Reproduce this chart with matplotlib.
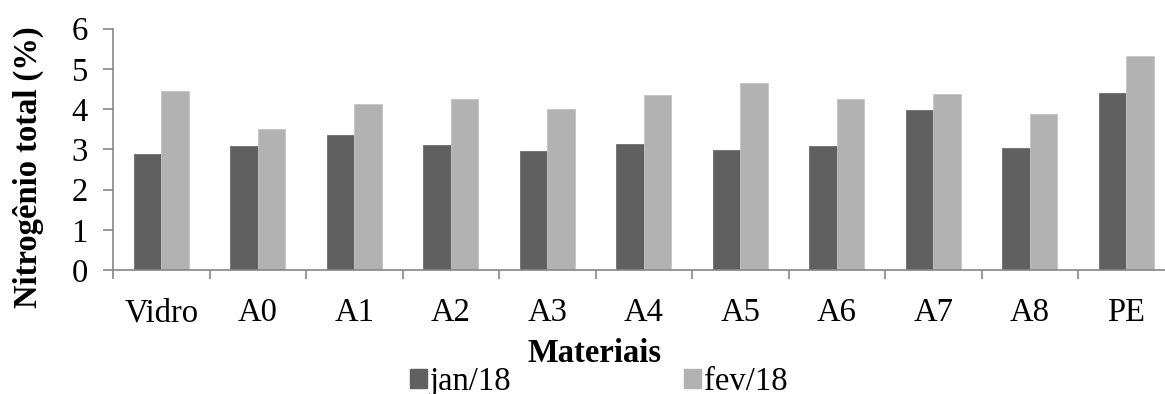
import matplotlib
matplotlib.use("Agg")
import matplotlib.pyplot as plt
import numpy as np
from matplotlib.patches import Patch

# Total nitrogen (%) per material, two sampling months
materials = ["Vidro", "A0", "A1", "A2", "A3", "A4", "A5", "A6", "A7", "A8", "PE"]
jan18 = [2.89, 3.08, 3.36, 3.12, 2.96, 3.13, 2.98, 3.08, 3.98, 3.03, 4.40]
fev18 = [4.46, 3.51, 4.14, 4.25, 4.00, 4.34, 4.64, 4.25, 4.37, 3.88, 5.33]
series_labels = ["jan/18", "fev/18"]
yticks = [0, 1, 2, 3, 4, 5, 6]

plt.rcParams["font.family"] = ["Liberation Serif", "DejaVu Serif"]
FS = 23.5
c_jan = "#606060"
c_fev = "#b2b2b2"
spine_c = "#868686"

W, H = 1165, 394
fig = plt.figure(figsize=(W / 100, H / 100), dpi=100)
ax = fig.add_axes([113 / W, 1 - 270 / H, 1052 / W, (270 - 28.7) / H])

x = np.arange(len(materials))
w = 0.287
ax.bar(x - w / 2, jan18, width=w, color=c_jan, edgecolor="#6e6e6e", linewidth=0.6)
ax.bar(x + w / 2, fev18, width=w, color=c_fev, edgecolor="#c4c4c4", linewidth=0.6)

ax.set_ylim(0, 6)
ax.set_xlim(-0.5, -0.5 + 1052 / 96.5)
ax.set_yticks(yticks)
ax.set_xticks(x)
ax.set_xticklabels(materials)
ax.set_xticks(np.arange(-0.5, len(materials) - 0.5, 1.0), minor=True)

for s in ["top", "right"]:
    ax.spines[s].set_visible(False)
for s in ["left", "bottom"]:
    ax.spines[s].set_color(spine_c)
    ax.spines[s].set_linewidth(1.2)

ax.tick_params(axis="y", direction="out", length=7, width=1.2, color=spine_c,
               labelsize=FS, pad=11)
ax.tick_params(axis="x", which="major", length=0, labelsize=FS, pad=20)
ax.tick_params(axis="x", which="minor", direction="out", length=6.5, width=1.2,
               color=spine_c)

# axis titles
fig.text(28 / W, 1 - 167 / H, "Nitrogênio total (%)", rotation=90,
         ha="center", va="center", fontsize=FS, fontweight="bold")
fig.text(595 / W, 1 - 354 / H, "Materiais", ha="center", va="center",
         fontsize=FS, fontweight="bold")

handles = [Patch(facecolor=c_jan, edgecolor=c_jan),
           Patch(facecolor=c_fev, edgecolor=c_fev)]
fig.legend(handles, series_labels, loc="center left",
           bbox_to_anchor=(410 / W, 1 - 382 / H),
           ncol=2, frameon=False, fontsize=FS, handlelength=0.52,
           handleheight=0.52, handletextpad=0.08, columnspacing=5.3,
           borderaxespad=0, borderpad=0)

fig.savefig("out.png", dpi=100)
